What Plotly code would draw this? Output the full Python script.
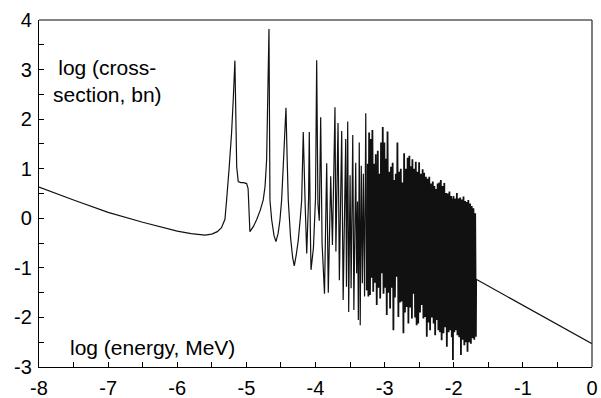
import plotly.graph_objects as go

# smooth low-energy part + isolated resonances (log10 E [MeV], log10 sigma [b])
x_low = [-8.0, -7.5, -7.0, -6.5, -6.0, -5.8, -5.6, -5.5, -5.42, -5.36, -5.31, -5.286,
         -5.25, -5.214, -5.19, -5.166, -5.14, -5.118, -5.08, -5.04, -4.996, -4.975,
         -4.949, -4.90, -4.852, -4.80, -4.756, -4.73, -4.707, -4.673, -4.659, -4.634,
         -4.60, -4.572, -4.54, -4.514, -4.49, -4.465, -4.445, -4.427, -4.41, -4.394,
         -4.36, -4.33, -4.307, -4.28, -4.249, -4.22, -4.20, -4.177, -4.15, -4.127,
         -4.10, -4.09, -4.075, -4.065, -4.03, -4.0, -3.983, -3.965, -3.945, -3.925,
         -3.905, -3.87]
y_low = [0.63, 0.37, 0.12, -0.08, -0.26, -0.31, -0.34, -0.32, -0.27, -0.19, -0.02, 0.37,
         1.0, 1.72, 2.39, 3.18, 1.04, 0.74, 0.72, 0.72, 0.70, 0.60,
         -0.27, -0.17, -0.03, 0.16, 0.37, 0.64, 1.18, 3.82, 0.37, -0.03,
         -0.35, -0.47, -0.30, -0.03, 0.37, 1.10, 1.70, 2.23, 1.20, 0.37,
         -0.40, -0.80, -0.96, -0.75, -0.44, 0.0, 0.37, 1.74, 0.30, -0.71,
         0.40, 1.74, -0.20, -1.04, -0.60, 0.40, 3.19, 0.30, -0.05, 2.04,
         -0.50, -1.52]

# partly resolved resonances (alternating peaks / valleys)
x_mid = [-3.838, -3.815, -3.780, -3.755, -3.718, -3.705, -3.674, -3.655, -3.621, -3.600,
         -3.563, -3.552, -3.534, -3.520, -3.500, -3.485, -3.461, -3.445, -3.418, -3.405,
         -3.392, -3.380, -3.367, -3.353, -3.338, -3.322, -3.308, -3.290, -3.273, -3.259]
y_mid = [1.11, -1.50, 0.85, -0.54, 2.24, -0.67, 1.92, -1.25, 1.76, -1.65,
         1.60, -1.38, 1.95, -1.89, 0.87, -1.41, 1.68, -1.85, 1.12, -1.11,
         0.34, -2.05, 1.53, -2.16, 1.06, -1.31, 0.90, -1.58, 2.12, -1.45]

# unresolved-looking resonance region (alternating peaks / valleys)
x_res = [-3.259,
         -3.247, -3.235, -3.224, -3.212, -3.201, -3.190, -3.177, -3.165, -3.152, -3.140,
         -3.128, -3.114, -3.099, -3.088, -3.076, -3.064, -3.052, -3.041, -3.027, -3.016,
         -3.004, -2.992, -2.981, -2.969, -2.958, -2.946, -2.934, -2.921, -2.908, -2.896,
         -2.884, -2.873, -2.863, -2.851, -2.839, -2.827, -2.815, -2.801, -2.790, -2.778,
         -2.766, -2.752, -2.740, -2.728, -2.718, -2.706, -2.694, -2.679, -2.667, -2.656,
         -2.642, -2.630, -2.617, -2.605, -2.598, -2.584, -2.572, -2.559, -2.549, -2.537,
         -2.526, -2.514, -2.501, -2.488, -2.475, -2.462, -2.450, -2.439, -2.428, -2.414,
         -2.402, -2.390, -2.378, -2.366, -2.354, -2.342, -2.330, -2.316, -2.303, -2.291,
         -2.280, -2.269, -2.255, -2.244, -2.233, -2.222, -2.210, -2.198, -2.187, -2.175,
         -2.162, -2.149, -2.137, -2.124, -2.110, -2.100, -2.087, -2.075, -2.062, -2.050,
         -2.038, -2.028, -2.019, -2.012, -2.004, -1.992, -1.980, -1.968, -1.955, -1.946,
         -1.933, -1.920, -1.907, -1.896, -1.884, -1.872, -1.859, -1.847, -1.835, -1.822,
         -1.810, -1.801, -1.789, -1.776, -1.763, -1.752, -1.740, -1.727, -1.715, -1.703,
         -1.690, -1.680, -1.676]
y_res = [-1.45,
         1.10, -1.58, 1.73, -1.55, 1.60, -1.20, 1.78, -1.48, 1.10, -1.30,
         1.29, -1.75, 1.36, -1.40, 0.90, -1.62, 1.53, -1.11, 1.84, -1.52,
         1.53, -1.40, 1.20, -1.95, 1.75, -1.50, 0.94, -1.82, 1.04, -1.40,
         1.12, -2.26, 0.77, -1.60, 0.90, -1.18, 1.53, -1.99, 0.94, -1.70,
         1.00, -1.68, 0.72, -2.32, 1.31, -1.90, 1.00, -1.79, 1.22, -2.12,
         1.26, -1.80, 1.05, -2.02, 1.19, -1.52, 1.00, -2.00, 1.14, -2.16,
         0.94, -2.12, 1.13, -1.90, 0.90, -1.75, 0.99, -2.02, 0.92, -1.99,
         0.84, -2.39, 0.80, -2.10, 0.84, -2.26, 0.70, -2.00, 0.74, -2.12,
         0.65, -2.36, 0.59, -2.05, 0.70, -2.26, 0.72, -2.30, 0.77, -2.46,
         0.65, -2.32, 0.71, -2.20, 0.51, -2.59, 0.50, -2.30, 0.54, -2.26,
         0.45, -2.40, 0.40, -2.86, 0.45, -2.30, 0.40, -2.26, 0.51, -2.36,
         0.40, -2.40, 0.42, -2.76, 0.38, -2.45, 0.44, -2.56, 0.35, -2.50,
         0.33, -2.69, 0.37, -2.50, 0.30, -2.53, 0.25, -2.42, 0.20, -2.45,
         0.10, -2.39, -1.23]

# high-energy smooth tail
x_high = [-1.676, 0.0]
y_high = [-1.23, -2.53]

x_ticks = [-8, -7, -6, -5, -4, -3, -2, -1, 0]
y_ticks = [-3, -2, -1, 0, 1, 2, 3, 4]

FONT = "Liberation Sans, Arial, sans-serif"
LINE = "#111111"

fig = go.Figure()
fig.add_trace(go.Scatter(x=x_low + x_mid, y=y_low + y_mid, mode="lines",
                         line=dict(color=LINE, width=1.2, simplify=False),
                         hoverinfo="skip", showlegend=False))
fig.add_trace(go.Scatter(x=x_res, y=y_res, mode="lines",
                         line=dict(color=LINE, width=1.8, simplify=False),
                         hoverinfo="skip", showlegend=False))
fig.add_trace(go.Scatter(x=x_high, y=y_high, mode="lines",
                         line=dict(color=LINE, width=1.2),
                         hoverinfo="skip", showlegend=False))

axis_common = dict(showgrid=False, zeroline=False, showline=True, linecolor="#000000",
                   linewidth=1.3, ticks="inside", ticklen=5, tickwidth=1.2,
                   tickcolor="#000000", automargin=False,
                   tickfont=dict(family=FONT, size=20, color="#000000"),
                   minor=dict(ticks="inside", ticklen=5, tickwidth=1.2,
                              tickcolor="#000000", dtick=0.5, showgrid=False))

fig.update_xaxes(range=[-8, 0], tickvals=x_ticks, ticklabelstandoff=3,
                 ticktext=[str(v) for v in x_ticks], **axis_common)
fig.update_yaxes(range=[-3, 4], tickvals=y_ticks, ticklabelstandoff=2,
                 ticktext=[str(v) for v in y_ticks], **axis_common)

# grey top and right frame
fig.add_shape(type="line", xref="paper", yref="paper", x0=0, x1=1, y0=1, y1=1,
              line=dict(color="#5a5a5a", width=1.3))
fig.add_shape(type="line", xref="paper", yref="paper", x0=1, x1=1, y0=0, y1=1,
              line=dict(color="#3a3a3a", width=1.3))

fig.add_annotation(x=-7.012, y=2.764, xref="x", yref="y",
                   text="log (cross-<br>section, bn)", showarrow=False,
                   xanchor="center", yanchor="middle", align="center",
                   font=dict(family=FONT, size=21, color="#000000"))
fig.add_annotation(x=-7.584, y=-2.61, xref="x", yref="y",
                   text="log (energy, MeV)", showarrow=False,
                   xanchor="left", yanchor="middle",
                   font=dict(family=FONT, size=21, color="#000000"))

fig.update_layout(width=601, height=398,
                  margin=dict(l=39, r=9, t=20, b=31),
                  paper_bgcolor="#ffffff", plot_bgcolor="#ffffff")

fig.write_html("out.html")
